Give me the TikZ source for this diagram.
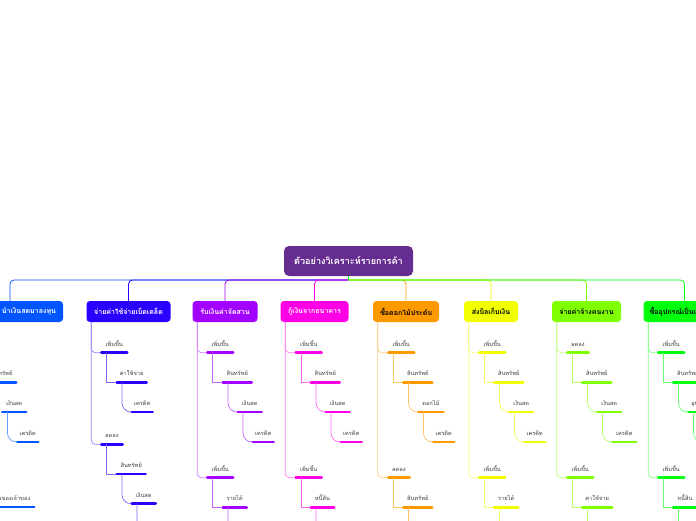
\documentclass[tikz,border=0pt]{standalone}
\usepackage{fontspec}
\newfontfamily\thaifont[Script=Thai]{Loma}
\usetikzlibrary{positioning, arrows.meta, calc}
\definecolor{rootcolor}{RGB}{102,45,145}
\definecolor{ownercolor}{RGB}{0,85,255}
\definecolor{misccolor}{RGB}{42,0,255}
\definecolor{gardencolor}{RGB}{162,0,255}
\definecolor{loancolor}{RGB}{255,0,230}
\definecolor{flowercolor}{RGB}{255,153,0}
\definecolor{billcolor}{RGB}{242,255,0}
\definecolor{wagecolor}{RGB}{128,255,0}
\definecolor{gearcolor}{RGB}{0,255,13}
\tikzset{
    boxnode/.style={rounded corners=3.5pt, minimum height=21pt, inner xsep=4pt, inner ysep=0pt, fill=#1, font=\thaifont\bfseries\fontsize{7.05}{9}\selectfont},
    leaf/.style={anchor=south west, inner xsep=0pt, inner ysep=4.5pt, text height=6pt, text depth=2pt, text=black!75, font=\thaifont\fontsize{5.7}{7}\selectfont,
        append after command={\pgfextra{\draw[#1, line width=2.6pt, line cap=round, shorten <=1.2pt, shorten >=1.2pt] (\tikzlastnode.south west) -- (\tikzlastnode.south east);}}},
    trunk/.style={draw=#1, line width=0.8pt, rounded corners=4pt},
    link/.style={draw=#1!60, line width=0.7pt},
    bend/.style={draw=#1!60, line width=0.7pt, rounded corners=9pt},
    drop/.style={draw=#1!50, line width=0.7pt, rounded corners=4pt}
}
\begin{document}
\begin{tikzpicture}[x=1pt, y=-1pt]
    \useasboundingbox (0,0) rectangle (696,520);
    \clip (0,0) rectangle (696,520);

    % Titre
    \node[boxnode=rootcolor, text=white, minimum width=129pt, minimum height=30pt, rounded corners=5pt, font=\thaifont\bfseries\fontsize{9.1}{11}\selectfont] (root) at (348.5,261) {ตัวอย่างวิเคราะห์รายการค้า};
    \coordinate (hub) at (348.5,280);

    % Les huit boites
    \node[boxnode=ownercolor, text=white, minimum width=106pt, text width=92pt, align=right] (owner) at (10,311.5) {นำเงินสดมาลงทุน};
    \node[boxnode=misccolor, text=white, minimum width=84pt] (misc) at (128.5,311.5) {จ่ายค่าใช้จ่ายเบ็ดเตล็ด};
    \node[boxnode=gardencolor, text=white, minimum width=65pt] (garden) at (225,311.5) {รับเงินค่าจัดสวน};
    \node[boxnode=loancolor, text=white, minimum width=68pt] (loan) at (314.5,311.5) {กู้เงินจากธนาคาร};
    \node[boxnode=flowercolor, minimum width=66pt] (flower) at (406,311.5) {ซื้อดอกไม้ประดับ};
    \node[boxnode=billcolor, minimum width=54pt] (bill) at (491,311.5) {ส่งบิลเก็บเงิน};
    \node[boxnode=wagecolor, minimum width=69pt] (wage) at (586.5,311.5) {จ่ายค่าจ้างคนงาน};
    \node[boxnode=gearcolor, minimum width=82pt, text width=70pt, align=left] (gear) at (684.5,311.5) {ซื้ออุปกรณ์เป็นเงินเชื่อ};

    % Liens depuis le titre
    \draw[trunk=ownercolor] (hub) -| (owner.north);
    \draw[trunk=misccolor] (hub) -| (misc.north);
    \draw[trunk=gardencolor] (hub) -| (garden.north);
    \draw[trunk=loancolor] (hub) -| (loan.north);
    \draw[trunk=flowercolor] (hub) -| (flower.north);
    \draw[trunk=billcolor] (hub) -| (bill.north);
    \draw[trunk=wagecolor] (hub) -| (wage.north);
    \draw[trunk=gearcolor] (hub) -| (gear.north);
    \draw[gearcolor, line width=1.2pt] (root.south -| hub) -- (hub);

    % Branche 0
    \node[leaf=ownercolor, minimum width=31pt] (owner2) at (-14,382.5) {สินทรัพย์};
    \node[leaf=ownercolor, minimum width=26pt] (owner3) at (1,412) {เงินสด};
    \node[leaf=ownercolor, minimum width=23pt] (owner4) at (16,442) {เครดิต};
    \node[leaf=ownercolor, minimum width=49pt] (owner6) at (-14,507) {ส่วนของเจ้าของ};
    \draw[bend=ownercolor] ([xshift=6.5pt]owner3.south west) |- (owner4.south west);

    % Branche 1
    \node[leaf=misccolor, minimum width=28pt] (misc1) at (100,352.7) {เพิ่มขึ้น};
    \node[leaf=misccolor, minimum width=32pt] (misc2) at (115.5,382.5) {ค่าใช้จ่าย};
    \node[leaf=misccolor, minimum width=23pt] (misc3) at (130.5,412) {เครดิต};
    \node[leaf=misccolor, minimum width=23.5pt] (misc5) at (100,444.3) {ลดลง};
    \node[leaf=misccolor, minimum width=31pt] (misc6) at (115.5,474) {สินทรัพย์};
    \node[leaf=misccolor, minimum width=26pt] (misc7) at (130.5,503.7) {เงินสด};
    \coordinate (misc8) at (145.5,533.5);
    \draw[drop=misccolor] ([xshift=5pt]misc.south west) |- (misc1.south west);
    \draw[drop=misccolor] ([xshift=5pt]misc.south west) |- (misc5.south west);
    \draw[link=misccolor] ([xshift=6.5pt]misc1.south west) |- (misc2.south west);
    \draw[bend=misccolor] ([xshift=6.5pt]misc2.south west) |- (misc3.south west);
    \draw[link=misccolor] ([xshift=6.5pt]misc5.south west) |- (misc6.south west);
    \draw[bend=misccolor] ([xshift=6.5pt]misc6.south west) |- (misc7.south west);
    \draw[bend=misccolor] ([xshift=6.5pt]misc7.south west) |- (misc8);

    % Branche 2
    \node[leaf=gardencolor, minimum width=28pt] (garden1) at (206,352.7) {เพิ่มขึ้น};
    \node[leaf=gardencolor, minimum width=31pt] (garden2) at (221.5,382.5) {สินทรัพย์};
    \node[leaf=gardencolor, minimum width=26pt] (garden3) at (236.5,412) {เงินสด};
    \node[leaf=gardencolor, minimum width=23pt] (garden4) at (251.5,442) {เครดิต};
    \node[leaf=gardencolor, minimum width=28pt] (garden5) at (206,477.7) {เพิ่มขึ้น};
    \node[leaf=gardencolor, minimum width=26pt] (garden6) at (221.5,507.5) {รายได้};
    \coordinate (garden7) at (236.5,537);
    \draw[drop=gardencolor] ([xshift=5pt]garden.south west) |- (garden1.south west);
    \draw[drop=gardencolor] ([xshift=5pt]garden.south west) |- (garden5.south west);
    \draw[link=gardencolor] ([xshift=6.5pt]garden1.south west) |- (garden2.south west);
    \draw[bend=gardencolor] ([xshift=6.5pt]garden2.south west) |- (garden3.south west);
    \draw[bend=gardencolor] ([xshift=6.5pt]garden3.south west) |- (garden4.south west);
    \draw[link=gardencolor] ([xshift=6.5pt]garden5.south west) |- (garden6.south west);
    \draw[bend=gardencolor] ([xshift=6.5pt]garden6.south west) |- (garden7);

    % Branche 3
    \node[leaf=loancolor, minimum width=28pt] (loan1) at (294.5,352.7) {เพิ่มขึ้น};
    \node[leaf=loancolor, minimum width=31pt] (loan2) at (309.5,382.5) {สินทรัพย์};
    \node[leaf=loancolor, minimum width=26pt] (loan3) at (324.5,412) {เงินสด};
    \node[leaf=loancolor, minimum width=23pt] (loan4) at (339.5,442) {เครดิต};
    \node[leaf=loancolor, minimum width=28pt] (loan5) at (294.5,477.7) {เพิ่มขึ้น};
    \node[leaf=loancolor, minimum width=25.5pt] (loan6) at (309.5,507.5) {หนี้สิน};
    \coordinate (loan7) at (324.5,537);
    \draw[drop=loancolor] ([xshift=5pt]loan.south west) |- (loan1.south west);
    \draw[drop=loancolor] ([xshift=5pt]loan.south west) |- (loan5.south west);
    \draw[link=loancolor] ([xshift=6.5pt]loan1.south west) |- (loan2.south west);
    \draw[bend=loancolor] ([xshift=6.5pt]loan2.south west) |- (loan3.south west);
    \draw[bend=loancolor] ([xshift=6.5pt]loan3.south west) |- (loan4.south west);
    \draw[link=loancolor] ([xshift=6.5pt]loan5.south west) |- (loan6.south west);
    \draw[bend=loancolor] ([xshift=6.5pt]loan6.south west) |- (loan7);

    % Branche 4
    \node[leaf=flowercolor, minimum width=28pt] (flower1) at (387,352.7) {เพิ่มขึ้น};
    \node[leaf=flowercolor, minimum width=31pt] (flower2) at (402,382.5) {สินทรัพย์};
    \node[leaf=flowercolor, minimum width=27.5pt] (flower3) at (417,412) {ดอกไม้};
    \node[leaf=flowercolor, minimum width=23pt] (flower4) at (432,442) {เครดิต};
    \node[leaf=flowercolor, minimum width=23.5pt] (flower5) at (387,477.7) {ลดลง};
    \node[leaf=flowercolor, minimum width=31pt] (flower6) at (402,507.5) {สินทรัพย์};
    \coordinate (flower7) at (417,537);
    \draw[drop=flowercolor] ([xshift=5pt]flower.south west) |- (flower1.south west);
    \draw[drop=flowercolor] ([xshift=5pt]flower.south west) |- (flower5.south west);
    \draw[link=flowercolor] ([xshift=6.5pt]flower1.south west) |- (flower2.south west);
    \draw[bend=flowercolor] ([xshift=6.5pt]flower2.south west) |- (flower3.south west);
    \draw[bend=flowercolor] ([xshift=6.5pt]flower3.south west) |- (flower4.south west);
    \draw[link=flowercolor] ([xshift=6.5pt]flower5.south west) |- (flower6.south west);
    \draw[bend=flowercolor] ([xshift=6.5pt]flower6.south west) |- (flower7);

    % Branche 5
    \node[leaf=billcolor, minimum width=28pt] (bill1) at (478,352.7) {เพิ่มขึ้น};
    \node[leaf=billcolor, minimum width=31pt] (bill2) at (493,382.5) {สินทรัพย์};
    \node[leaf=billcolor, minimum width=26pt] (bill3) at (508,412) {เงินสด};
    \node[leaf=billcolor, minimum width=23pt] (bill4) at (523,442) {เครดิต};
    \node[leaf=billcolor, minimum width=28pt] (bill5) at (478,477.7) {เพิ่มขึ้น};
    \node[leaf=billcolor, minimum width=26pt] (bill6) at (493,507.5) {รายได้};
    \coordinate (bill7) at (508,537);
    \draw[drop=billcolor] ([xshift=5pt]bill.south west) |- (bill1.south west);
    \draw[drop=billcolor] ([xshift=5pt]bill.south west) |- (bill5.south west);
    \draw[link=billcolor] ([xshift=6.5pt]bill1.south west) |- (bill2.south west);
    \draw[bend=billcolor] ([xshift=6.5pt]bill2.south west) |- (bill3.south west);
    \draw[bend=billcolor] ([xshift=6.5pt]bill3.south west) |- (bill4.south west);
    \draw[link=billcolor] ([xshift=6.5pt]bill5.south west) |- (bill6.south west);
    \draw[bend=billcolor] ([xshift=6.5pt]bill6.south west) |- (bill7);

    % Branche 6
    \node[leaf=wagecolor, minimum width=23.5pt] (wage1) at (566,352.7) {ลดลง};
    \node[leaf=wagecolor, minimum width=31pt] (wage2) at (581,382.5) {สินทรัพย์};
    \node[leaf=wagecolor, minimum width=26pt] (wage3) at (596,412) {เงินสด};
    \node[leaf=wagecolor, minimum width=26pt] (wage4) at (611,442) {เครดิต};
    \node[leaf=wagecolor, minimum width=28pt] (wage5) at (566,477.7) {เพิ่มขึ้น};
    \node[leaf=wagecolor, minimum width=32pt] (wage6) at (581,507.5) {ค่าใช้จ่าย};
    \coordinate (wage7) at (596,537);
    \draw[drop=wagecolor] ([xshift=5pt]wage.south west) |- (wage1.south west);
    \draw[drop=wagecolor] ([xshift=5pt]wage.south west) |- (wage5.south west);
    \draw[link=wagecolor] ([xshift=6.5pt]wage1.south west) |- (wage2.south west);
    \draw[bend=wagecolor] ([xshift=6.5pt]wage2.south west) |- (wage3.south west);
    \draw[bend=wagecolor] ([xshift=6.5pt]wage3.south west) |- (wage4.south west);
    \draw[link=wagecolor] ([xshift=6.5pt]wage5.south west) |- (wage6.south west);
    \draw[bend=wagecolor] ([xshift=6.5pt]wage6.south west) |- (wage7);

    % Branche 7
    \node[leaf=gearcolor, minimum width=28pt] (gear1) at (657,352.7) {เพิ่มขึ้น};
    \node[leaf=gearcolor, minimum width=31pt] (gear2) at (672,382.5) {สินทรัพย์};
    \node[leaf=gearcolor, minimum width=27pt] (gear3) at (687,412) {อุปกรณ์};
    \coordinate (gear4) at (702,442);
    \node[leaf=gearcolor, minimum width=28pt] (gear5) at (657,477.7) {เพิ่มขึ้น};
    \node[leaf=gearcolor, minimum width=25.5pt] (gear6) at (672,507.5) {หนี้สิน};
    \coordinate (gear7) at (687,537);
    \draw[drop=gearcolor] ([xshift=5pt]gear.south west) |- (gear1.south west);
    \draw[drop=gearcolor] ([xshift=5pt]gear.south west) |- (gear5.south west);
    \draw[link=gearcolor] ([xshift=6.5pt]gear1.south west) |- (gear2.south west);
    \draw[bend=gearcolor] ([xshift=6.5pt]gear2.south west) |- (gear3.south west);
    \draw[bend=gearcolor] ([xshift=6.5pt]gear3.south west) |- (gear4);
    \draw[link=gearcolor] ([xshift=6.5pt]gear5.south west) |- (gear6.south west);
    \draw[bend=gearcolor] ([xshift=6.5pt]gear6.south west) |- (gear7);
\end{tikzpicture}
\end{document}
